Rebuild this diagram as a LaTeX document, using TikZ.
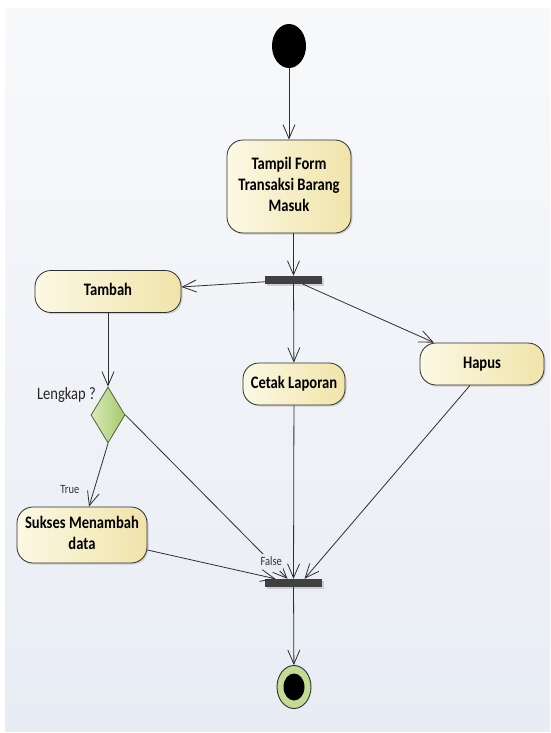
\documentclass[tikz,border=0pt]{standalone}
\usepackage{fontspec}
\usepackage{graphicx}
\setmainfont{Carlito}
\usetikzlibrary{shapes.geometric,arrows.meta,shadows,positioning}
\definecolor{panelTop}{HTML}{F8F9FB}
\definecolor{panelBot}{HTML}{E8ECF4}
\definecolor{actLeft}{HTML}{FCF8E4}
\definecolor{actRight}{HTML}{F0E4AA}
\definecolor{decLeft}{HTML}{D8EAB6}
\definecolor{decRight}{HTML}{A6C96E}
\definecolor{decEdge}{HTML}{4F6232}
\definecolor{edge}{HTML}{2E2E2E}
\definecolor{barGray}{HTML}{404040}
\definecolor{endGreen}{HTML}{C3DC95}
\newcommand{\tall}[1]{\scalebox{1}[1.2]{\begin{tabular}{@{}c@{}}#1\end{tabular}}}

\begin{document}
\begin{tikzpicture}[x=1pt,y=-1pt,
  shd/.style={drop shadow={shadow xshift=1.5pt,shadow yshift=-1.5pt,opacity=0.3}},
  act/.style={draw=edge,line width=0.8pt,rounded corners=16pt,left color=actLeft,right color=actRight,
    align=center,inner sep=0pt,font=\bfseries\fontsize{14.6}{17.5}\selectfont,shd},
  bar/.style={fill=barGray,minimum width=57pt,minimum height=8pt,inner sep=0pt,shd},
  flow/.style={draw=edge,line width=0.8pt,-{Straight Barb[length=14pt,width=12pt]}},
  guard/.style={font=\fontsize{10.5}{12}\selectfont,inner sep=1pt,text=black!80}]
\useasboundingbox (0,0) rectangle (550,733);
\fill[white] (0,0) rectangle (550,733);
\shade[top color=panelTop,bottom color=panelBot] (5,9) rectangle (550,731);

\node[ellipse,fill=black,minimum width=34pt,minimum height=44pt,inner sep=0pt] (start) at (289,46) {};
\node[act,minimum width=124pt,minimum height=93pt] (tampil) at (289,186.5) {\tall{Tampil Form\\Transaksi Barang\\Masuk}};
\node[bar] (fork) at (293.5,280) {};
\foreach \n/\x/\y/\w/\t in {tambah/108/291.5/146/Tambah, cetak/294/384/102/Cetak Laporan, hapus/482/364/124/Hapus}
    \node[act,minimum width=\w pt,minimum height=42pt] (\n) at (\x,\y) {\tall{\t}};
\node[diamond,draw=decEdge,line width=0.8pt,left color=decLeft,right color=decRight,
  minimum width=34pt,minimum height=56pt,inner sep=0pt] (dec) at (108,415) {};
\node[anchor=east,inner sep=0pt,font=\fontsize{14.5}{17}\selectfont,text=black!85] (lengkap) at (96,395) {\tall{Lengkap ?}};
\node[act,minimum width=130pt,minimum height=56pt] (sukses) at (82,535) {\tall{Sukses Menambah\\data}};
\node[bar] (join) at (293.5,583) {};
\node[ellipse,draw=edge,line width=0.9pt,fill=endGreen,minimum width=34pt,minimum height=43pt,inner sep=0pt] (end) at (294,687) {};
\node[ellipse,fill=black,minimum width=21pt,minimum height=27pt,inner sep=0pt] (endDot) at (end) {};

\draw[flow] (start) -- (tampil);
\draw[flow] (tampil.south -| fork) -- (fork);
\foreach \n in {tambah,cetak,hapus}
    \draw[flow] (fork) -- (\n);
\draw[flow] (tambah) -- (dec);
\draw[flow] (dec.south) -- ([xshift=7pt]sukses.north) node[guard,pos=0.75,left=13pt] {\tall{True}};
\draw[flow] (dec.east) -- ([xshift=-6pt]join.north) node[guard,pos=0.9,fill=panelBot] {\tall{False}};
\draw[flow] ([yshift=-15pt]sukses.east) -- ([xshift=-18pt]join.north);
\draw[flow] (cetak) -- (join);
\draw[flow] ([xshift=-12pt]hapus.south) -- ([xshift=11pt]join.north);
\draw[flow] (join) -- (end);
\end{tikzpicture}
\end{document}
